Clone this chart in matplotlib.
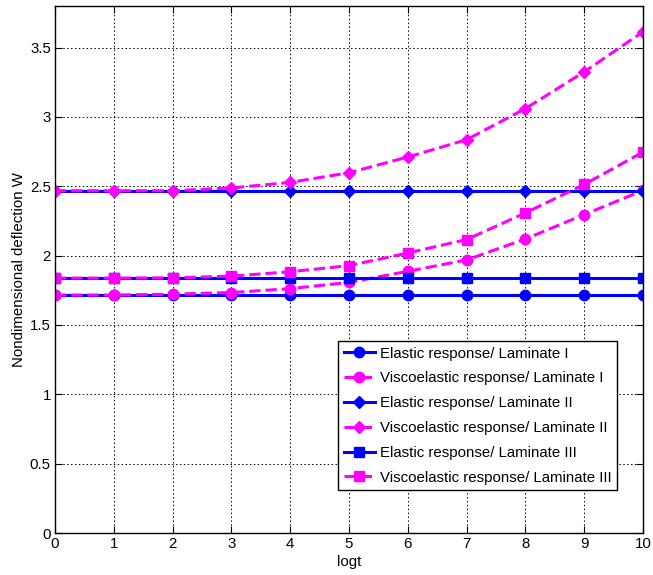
import numpy as np
import matplotlib
matplotlib.use('Agg')
import matplotlib.pyplot as plt

plt.rcParams['font.family'] = ['Liberation Sans', 'DejaVu Sans']

logt = np.arange(0, 11)

elastic_1 = [1.716] * 11
visco_1 = [1.716, 1.716, 1.722, 1.734, 1.762, 1.807, 1.887, 1.969, 2.12, 2.296, 2.47]
elastic_2 = [2.468] * 11
visco_2 = [2.468, 2.468, 2.468, 2.488, 2.528, 2.598, 2.711, 2.836, 3.06, 3.325, 3.614]
elastic_3 = [1.838] * 11
visco_3 = [1.838, 1.838, 1.840, 1.852, 1.884, 1.928, 2.019, 2.116, 2.308, 2.513, 2.747]

labels = ['Elastic response/ Laminate I', 'Viscoelastic response/ Laminate I',
          'Elastic response/ Laminate II', 'Viscoelastic response/ Laminate II',
          'Elastic response/ Laminate III', 'Viscoelastic response/ Laminate III']

blue = (0, 0, 1)
mag = (1, 0, 1)

fig = plt.figure(figsize=(6.53, 5.75), dpi=100)
ax = fig.add_axes([0.0842, 0.073, 0.9005, 0.9166])

series = [(elastic_1, 'o', blue, '-'), (visco_1, 'o', mag, '--'),
          (elastic_2, 'D', blue, '-'), (visco_2, 'D', mag, '--'),
          (elastic_3, 's', blue, '-'), (visco_3, 's', mag, '--')]
for (vals, mk, col, ls), lab in zip(series, labels):
    ms = {'o': 7.5, 'D': 6.5, 's': 6.5}[mk]
    ax.plot(logt, vals, linestyle=ls, marker=mk, color=col, markerfacecolor=col,
            markeredgecolor=col, lw=2.2, ms=ms, label=lab)

ax.set_xlim(0, 10)
ax.set_ylim(0, 3.8)
ax.set_xticks(logt)
ax.set_yticks(np.arange(0, 3.6, 0.5))
ax.set_yticklabels(['0', '0.5', '1', '1.5', '2', '2.5', '3', '3.5'])
ax.grid(True, color='black', linestyle=(0, (1.5, 2.5)), linewidth=0.7)
ax.tick_params(direction='in', labelsize=10.8, top=True, right=True, length=5, width=0.8, pad=3)
for sp in ax.spines.values():
    sp.set_linewidth(1)
ax.set_xlabel('logt', fontsize=10.8, labelpad=3)
ax.set_ylabel('Nondimensional deflection W', fontsize=10.8, labelpad=3)

leg = ax.legend(loc='lower right', bbox_to_anchor=(0.955, 0.082), borderaxespad=0,
                fontsize=10.8, fancybox=False, framealpha=1, edgecolor='black',
                handlelength=2.1, labelspacing=0.72, borderpad=0.35, handletextpad=0.3)
leg.get_frame().set_linewidth(1)

fig.savefig('out.png', dpi=100)
